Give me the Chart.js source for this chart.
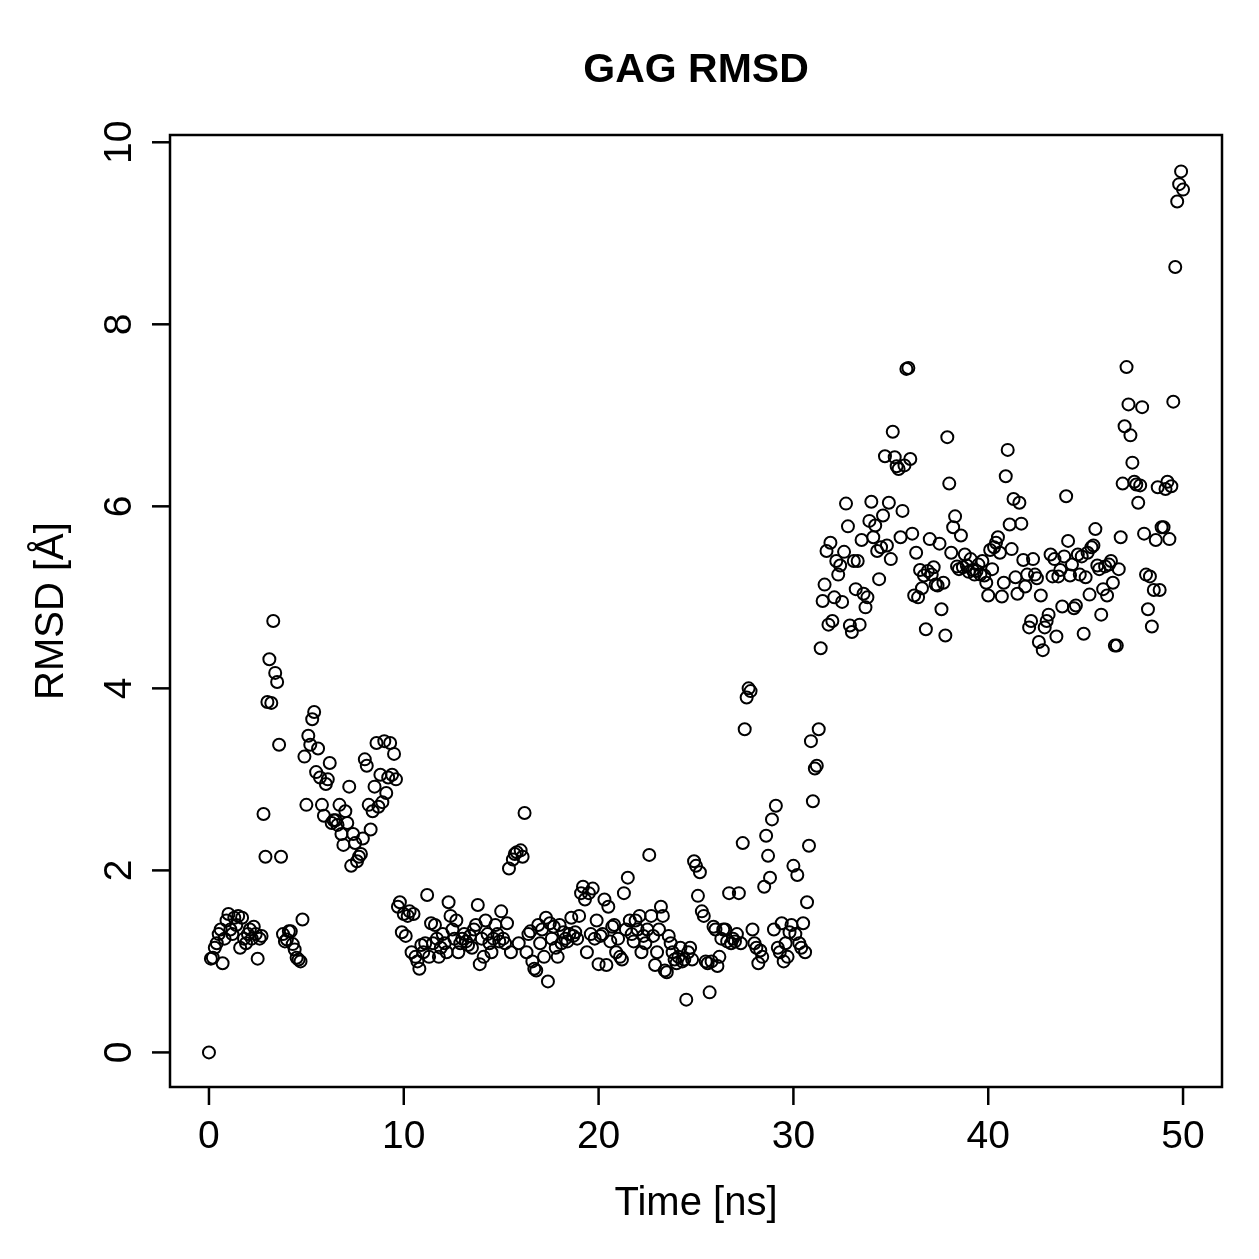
<!DOCTYPE html>
<html>
<head>
<meta charset="utf-8">
<title>GAG RMSD</title>
<script src="https://cdn.jsdelivr.net/npm/chart.js@4/dist/chart.umd.min.js"></script>
<style>
  html, body { margin: 0; padding: 0; background: #fff; }
  canvas { display: block; }
</style>
</head>
<body>
<canvas id="rmsdChart" width="1259" height="1259"></canvas>
<script>
// ==========================================
// DATA (RMSD in Å, one frame every 0.1 ns)
// ==========================================
const timeStep = 0.1;

const rmsd0to10 = [
  0, 1.03, 1.04, 1.15, 1.2, 1.3, 1.35, 0.98, 1.25, 1.45,
  1.52, 1.35, 1.3, 1.48, 1.4, 1.5, 1.15, 1.48, 1.25, 1.2,
  1.3, 1.35, 1.25, 1.38, 1.3, 1.03, 1.25, 1.28, 2.62, 2.15,
  3.85, 4.32, 3.84, 4.74, 4.17, 4.07, 3.38, 2.15, 1.3, 1.22,
  1.24, 1.33, 1.33, 1.19, 1.13, 1.04, 1.02, 1.0, 1.46, 3.25,
  2.72, 3.48, 3.38, 3.66, 3.74, 3.08, 3.34, 3.02, 2.72, 2.6,
  2.95, 3.0, 3.18, 2.52, 2.55, 2.55, 2.5, 2.72, 2.4, 2.28,
  2.65, 2.52, 2.92, 2.05, 2.4, 2.3, 2.1, 2.15, 2.18, 2.35,
  3.22, 3.15, 2.72, 2.45, 2.65, 2.92, 3.4, 2.7, 3.05, 2.75,
  3.42, 2.85, 3.02, 3.4, 3.05, 3.28, 3.0, 1.6, 1.65, 1.32
];

const rmsd10to20 = [
  1.52, 1.28, 1.5, 1.55, 1.1, 1.52, 1.05, 1.0, 0.92, 1.18,
  1.1, 1.2, 1.73, 1.05, 1.42, 1.2, 1.4, 1.25, 1.05, 1.15,
  1.3, 1.2, 1.1, 1.65, 1.5, 1.35, 1.25, 1.45, 1.1, 1.2,
  1.25, 1.3, 1.22, 1.18, 1.28, 1.15, 1.35, 1.4, 1.62, 0.97,
  1.25, 1.05, 1.45, 1.3, 1.2, 1.1, 1.25, 1.4, 1.3, 1.22,
  1.55, 1.25, 1.2, 1.42, 2.02, 1.1, 2.12, 2.18, 2.2, 1.2,
  2.22, 2.15, 2.63, 1.1, 1.3, 1.33, 1.0, 0.92, 0.9, 1.4,
  1.2, 1.35, 1.05, 1.48, 0.78, 1.42, 1.25, 1.38, 1.15, 1.05,
  1.4, 1.2, 1.32, 1.25, 1.22, 1.3, 1.48, 1.28, 1.32, 1.25,
  1.5, 1.75, 1.82, 1.68, 1.1, 1.75, 1.3, 1.8, 1.25, 1.45
];

const rmsd20to30 = [
  0.97, 1.28, 1.3, 1.68, 0.96, 1.6, 1.22, 1.38, 1.4, 1.1,
  1.25, 1.05, 1.02, 1.75, 1.35, 1.92, 1.45, 1.3, 1.22, 1.45,
  1.35, 1.5, 1.1, 1.28, 1.2, 1.35, 2.17, 1.5, 1.28, 0.96,
  1.1, 1.35, 1.6, 1.5, 0.9, 0.88, 1.28, 1.2, 1.1, 1.02,
  0.98, 1.05, 1.15, 1.0, 1.02, 0.58, 1.1, 1.15, 1.02, 2.1,
  2.05, 1.72, 1.98, 1.55, 1.5, 1.0, 0.98, 0.66, 1.0, 1.38,
  1.35, 0.95, 1.05, 1.25, 1.35, 1.35, 1.22, 1.75, 1.2, 1.25,
  1.22, 1.3, 1.75, 1.2, 2.3, 3.55, 3.9, 4.0, 3.97, 1.35,
  1.2, 1.15, 0.98, 1.12, 1.05, 1.82, 2.38, 2.16, 1.92, 2.56,
  1.35, 2.71, 1.15, 1.1, 1.42, 1.0, 1.2, 1.05, 1.32, 1.4
];

const rmsd30to40 = [
  2.05, 1.3, 1.95, 1.2, 1.15, 1.42, 1.1, 1.65, 2.27, 3.42,
  2.76, 3.12, 3.15, 3.55, 4.44, 4.96, 5.14, 5.51, 4.70, 5.60,
  4.74, 5.00, 5.40, 5.25, 5.35, 4.95, 5.50, 6.03, 5.78, 4.69,
  4.62, 5.40, 5.09, 5.40, 4.70, 5.63, 5.04, 4.89, 5.00, 5.84,
  6.05, 5.66, 5.79, 5.51, 5.20, 5.55, 5.90, 6.55, 5.57, 6.04,
  5.42, 6.82, 6.54, 6.44, 6.41, 5.66, 5.95, 6.45, 7.51, 7.52,
  6.52, 5.70, 5.02, 5.49, 5.00, 5.30, 5.10, 5.24, 4.65, 5.29,
  5.64, 5.25, 5.33, 5.14, 5.13, 5.59, 4.87, 5.16, 4.58, 6.76,
  6.25, 5.49, 5.77, 5.89, 5.34, 5.31, 5.68, 5.33, 5.47, 5.35,
  5.28, 5.42, 5.30, 5.25, 5.29, 5.36, 5.25, 5.40, 5.24, 5.16
];

const rmsd40to50 = [
  5.02, 5.52, 5.31, 5.55, 5.60, 5.66, 5.49, 5.01, 5.16, 6.33,
  6.62, 5.80, 5.53, 6.08, 5.22, 5.04, 6.04, 5.81, 5.41, 5.12,
  5.25, 4.67, 4.74, 5.42, 5.25, 5.21, 4.51, 5.02, 4.42, 4.67,
  4.74, 4.81, 5.47, 5.23, 5.42, 4.57, 5.23, 5.30, 4.90, 5.45,
  6.11, 5.62, 5.24, 5.36, 4.88, 4.91, 5.47, 5.25, 5.45, 4.60,
  5.22, 5.49, 5.03, 5.55, 5.57, 5.75, 5.35, 5.31, 4.81, 5.09,
  5.34, 5.02, 5.36, 5.40, 5.16, 4.47, 4.47, 5.31, 5.66, 6.25,
  6.88, 7.53, 7.12, 6.78, 6.48, 6.27, 6.24, 6.04, 6.23, 7.09,
  5.70, 5.25, 4.87, 5.23, 4.68, 5.08, 5.63, 6.21, 5.08, 5.77,
  5.77, 6.19, 6.27, 5.64, 6.22, 7.15, 8.63, 9.35, 9.54, 9.68,
  9.48
];

const xTicks = [0, 10, 20, 30, 40, 50];
const yTicks = [0, 2, 4, 6, 8, 10];

const chartTitle = 'GAG RMSD';
const xTitle = 'Time [ns]';
const yTitle = 'RMSD [Å]';

// ==========================================
// BUILD POINTS
// ==========================================
const rmsd = [].concat(rmsd0to10, rmsd10to20, rmsd20to30, rmsd30to40, rmsd40to50);
const points = rmsd.map((v, i) => ({ x: Math.round(i * timeStep * 10) / 10, y: v }));

const FONT = '"Liberation Sans", Arial, Helvetica, sans-serif';

// R-style frame, ticks and labels drawn through the chart's scales
const rAxesPlugin = {
  id: 'rAxes',
  afterDraw(chart) {
    const ctx = chart.ctx;
    const area = chart.chartArea;
    const xs = chart.scales.x;
    const ys = chart.scales.y;

    ctx.save();
    ctx.strokeStyle = '#000';
    ctx.fillStyle = '#000';
    ctx.lineWidth = 2.5;
    ctx.lineCap = 'butt';

    // box
    ctx.strokeRect(area.left, area.top, area.right - area.left, area.bottom - area.top);

    // x ticks
    ctx.font = '39px ' + FONT;
    ctx.textAlign = 'center';
    ctx.textBaseline = 'alphabetic';
    xTicks.forEach(t => {
      const px = xs.getPixelForValue(t);
      ctx.beginPath();
      ctx.moveTo(px, area.bottom);
      ctx.lineTo(px, area.bottom + 18);
      ctx.stroke();
      ctx.fillText(String(t), px, 1148);
    });

    // y ticks (labels rotated, as R draws them)
    yTicks.forEach(t => {
      const py = ys.getPixelForValue(t);
      ctx.beginPath();
      ctx.moveTo(area.left, py);
      ctx.lineTo(area.left - 18, py);
      ctx.stroke();
      ctx.save();
      ctx.translate(131, py);
      ctx.rotate(-Math.PI / 2);
      ctx.fillText(String(t), 0, 0);
      ctx.restore();
    });

    // axis titles
    const midX = (area.left + area.right) / 2;
    const midY = (area.top + area.bottom) / 2;
    ctx.font = '40px ' + FONT;
    ctx.fillText(xTitle, midX, 1215);
    ctx.save();
    ctx.translate(63, midY);
    ctx.rotate(-Math.PI / 2);
    ctx.fillText(yTitle, 0, 0);
    ctx.restore();

    // main title
    ctx.font = 'bold 41px ' + FONT;
    ctx.fillText(chartTitle, midX, 82);

    ctx.restore();
  }
};

new Chart(document.getElementById('rmsdChart').getContext('2d'), {
  type: 'scatter',
  data: {
    datasets: [{
      label: 'RMSD',
      data: points,
      pointStyle: 'circle',
      pointRadius: 6,
      pointHoverRadius: 6,
      backgroundColor: 'rgba(0,0,0,0)',
      borderColor: '#000',
      borderWidth: 2
    }]
  },
  options: {
    responsive: false,
    animation: false,
    events: [],
    layout: { padding: { left: 170, right: 37, top: 135, bottom: 172 } },
    plugins: {
      legend: { display: false },
      title: { display: false },
      tooltip: { enabled: false }
    },
    scales: {
      x: { type: 'linear', min: -2, max: 52, display: false },
      y: { type: 'linear', min: -0.38, max: 10.08, display: false }
    }
  },
  plugins: [rAxesPlugin]
});
</script>
</body>
</html>
